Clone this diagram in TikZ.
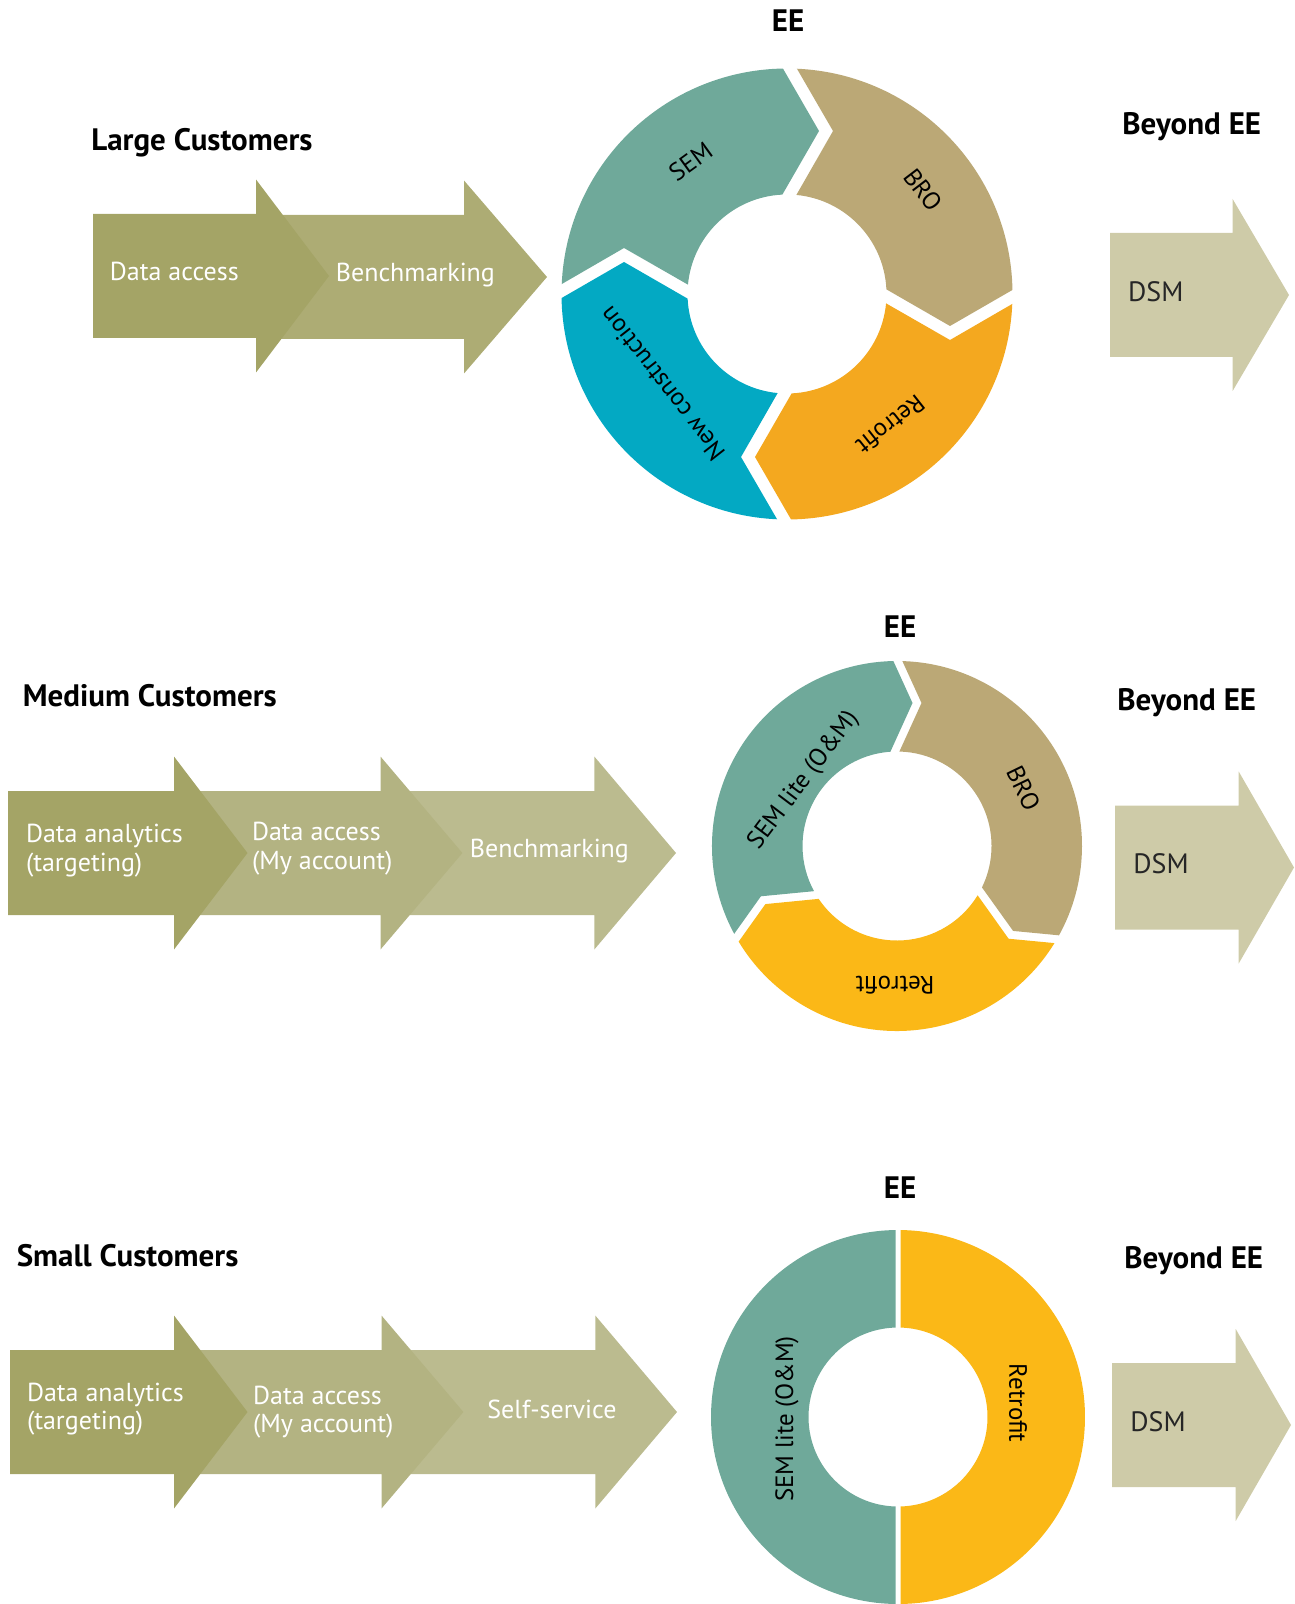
\documentclass[tikz,border=0pt]{standalone}
\usepackage{fontspec}
\setmainfont{PT Sans}

\definecolor{stepA}{RGB}{164,164,102}
\definecolor{stepB}{RGB}{173,172,116}
\definecolor{stepBB}{RGB}{179,179,130}
\definecolor{stepC}{RGB}{187,187,143}
\definecolor{dsmbeige}{RGB}{206,203,168}
\definecolor{semteal}{RGB}{111,169,154}
\definecolor{brotan}{RGB}{187,168,118}
\definecolor{retroorange}{RGB}{244,168,31}
\definecolor{retroyellow}{RGB}{251,184,23}
\definecolor{newblue}{RGB}{3,169,195}

% one piece of a ring: colour, start angle, end angle (clockwise)
\newcommand{\ringpart}[3]{%
  \pgfmathsetmacro\rpSo{#2+asin((\rpTip+\rpGap-(\rpRo-\rpRm)*\rpSlope)/\rpRo)}%
  \pgfmathsetmacro\rpSi{#2+asin((\rpTip+\rpGap-(\rpRm-\rpRi)*\rpSlope)/\rpRi)}%
  \pgfmathsetmacro\rpEo{#3+asin((\rpTip-(\rpRo-\rpRm)*\rpSlope)/\rpRo)}%
  \pgfmathsetmacro\rpEi{#3+asin((\rpTip-(\rpRm-\rpRi)*\rpSlope)/\rpRi)}%
  \fill[fill=#1] (\rpSo:\rpRo) arc[start angle=\rpSo, end angle=\rpEo, radius=\rpRo]
    -- ({\rpRm*cos(#3)-\rpTip*sin(#3)},{\rpRm*sin(#3)+\rpTip*cos(#3)})
    -- (\rpEi:\rpRi) arc[start angle=\rpEi, end angle=\rpSi, radius=\rpRi]
    -- ({\rpRm*cos(#2)-(\rpTip+\rpGap)*sin(#2)},{\rpRm*sin(#2)+(\rpTip+\rpGap)*cos(#2)})
    -- cycle;%
}

\begin{document}
\begin{tikzpicture}[
    x=0.5pt, y=-0.5pt,
    heading/.style={font=\bfseries\fontsize{15.5}{18}\selectfont, inner sep=0pt},
    title/.style={heading, anchor=base west},
    steplabel/.style={font=\fontsize{13}{14.3}\selectfont, text=white, inner sep=0pt, anchor=base west, align=left},
    dsmlabel/.style={font=\fontsize{14}{16}\selectfont, text=black!85, inner sep=0pt, anchor=base west},
    seglabel/.style={font=\fontsize{12.5}{14}\selectfont, inner sep=0pt}
  ]
  \useasboundingbox (0,0) rectangle (1294,1604);

  % large customers
  \node[title] (largeTitle) at (91,151) {Large Customers};
  \foreach \xs/\xh/\xt/\yc/\col in {262/464/547/277/stepB, 93/256/329/276/stepA}
    \fill[fill=\col] (\xs,\yc-62) -- (\xh,\yc-62) -- (\xh,\yc-96.5) -- (\xt,\yc)
      -- (\xh,\yc+96.5) -- (\xh,\yc+62) -- (\xs,\yc+62) -- cycle;
  \node[steplabel] (largeAccess) at (109.5,281) {Data access};
  \node[steplabel] (largeBench) at (335.5,282) {Benchmarking};

  \node[heading] (largeEE) at (788,21) {EE};
  \begin{scope}[shift={(787,294)}]
    \def\rpRo{225.5}\def\rpRi{99.5}\def\rpRm{163}\def\rpTip{32}\def\rpGap{14}\def\rpSlope{0.577}
    \ringpart{semteal}{180}{270}
    \ringpart{brotan}{270}{360}
    \ringpart{retroorange}{360}{450}
    \ringpart{newblue}{90}{180}
    \node[seglabel, rotate=36] (largeSEM) at (234:164) {SEM};
    \node[seglabel, rotate=-52.6] (largeBRO) at (322.6:171) {BRO};
    \node[seglabel, rotate=-141.7] (largeRetro) at (51.7:167) {Retrofit};
    \node[seglabel, rotate=128] (largeNew) at (144.2:154) {New construction};
  \end{scope}

  \node[title] (largeBeyond) at (1122,135) {Beyond EE};
  \fill[fill=dsmbeige] (1110,233) -- (1232.6,233) -- (1232.6,199) -- (1289,295)
    -- (1232.6,391) -- (1232.6,357) -- (1110,357) -- cycle;
  \node[dsmlabel] (largeDSM) at (1127.7,302) {DSM};

  % medium customers
  \node[title] (mediumTitle) at (22.5,706.5) {Medium Customers};
  \foreach \xs/\xh/\xt/\yc/\col in {410/594.3/676/853/stepC, 180/380.5/462.4/853/stepBB, 8/174/247.5/853/stepA}
    \fill[fill=\col] (\xs,\yc-62) -- (\xh,\yc-62) -- (\xh,\yc-96.5) -- (\xt,\yc)
      -- (\xh,\yc+96.5) -- (\xh,\yc+62) -- (\xs,\yc+62) -- cycle;
  \node[steplabel] (mediumAnalytics) at (25.6,871.3) {Data analytics\\(targeting)};
  \node[steplabel] (mediumAccess) at (251.6,869.2) {Data access\\(My account)};
  \node[steplabel] (mediumBench) at (469.5,857) {Benchmarking};

  \node[heading] (mediumEE) at (900,627) {EE};
  \begin{scope}[shift={(897,846)}]
    \def\rpRo{185}\def\rpRi{94.5}\def\rpRm{143}\def\rpTip{15.5}\def\rpGap{9}\def\rpSlope{0.456}
    \ringpart{semteal}{150}{270}
    \ringpart{brotan}{270}{390}
    \ringpart{retroyellow}{30}{150}
    \node[seglabel, rotate=53] (mediumSEM) at (215:114) {SEM lite (O\&M)};
    \node[seglabel, rotate=-64] (mediumBRO) at (335.4:139) {BRO};
    \node[seglabel, rotate=180] (mediumRetro) at (90.8:139) {Retrofit};
  \end{scope}

  \node[title] (mediumBeyond) at (1117,710.5) {Beyond EE};
  \fill[fill=dsmbeige] (1115,805.5) -- (1238.7,805.5) -- (1238.7,771.5) -- (1294,867.5)
    -- (1238.7,963.5) -- (1238.7,929.5) -- (1115,929.5) -- cycle;
  \node[dsmlabel] (mediumDSM) at (1133,873.5) {DSM};

  % small customers
  \node[title] (smallTitle) at (16.4,1266) {Small Customers};
  \foreach \xs/\xh/\xt/\yc/\col in {410/595.3/677/1412/stepC, 180/381.5/463.4/1412/stepBB, 10/174/247.5/1412/stepA}
    \fill[fill=\col] (\xs,\yc-62) -- (\xh,\yc-62) -- (\xh,\yc-96.5) -- (\xt,\yc)
      -- (\xh,\yc+96.5) -- (\xh,\yc+62) -- (\xs,\yc+62) -- cycle;
  \node[steplabel] (smallAnalytics) at (26.6,1429.6) {Data analytics\\(targeting)};
  \node[steplabel] (smallAccess) at (252.7,1432.9) {Data access\\(My account)};
  \node[steplabel] (smallSelf) at (487,1418.6) {Self-service};

  \node[heading] (smallEE) at (900,1187.6) {EE};
  \begin{scope}[shift={(898,1417)}]
    \def\rpRo{187}\def\rpRi{89.5}\def\rpRm{138}\def\rpTip{-2.5}\def\rpGap{5}\def\rpSlope{0}
    \ringpart{semteal}{90}{270}
    \ringpart{retroyellow}{270}{450}
    \node[seglabel, rotate=90] (smallSEM) at (-111,2) {SEM lite (O\&M)};
    \node[seglabel, rotate=-90] (smallRetro) at (120,-14) {Retrofit};
  \end{scope}

  \node[title] (smallBeyond) at (1124,1268) {Beyond EE};
  \fill[fill=dsmbeige] (1112,1363) -- (1235.7,1363) -- (1235.7,1329) -- (1291,1425)
    -- (1235.7,1521) -- (1235.7,1487) -- (1112,1487) -- cycle;
  \node[dsmlabel] (smallDSM) at (1130,1431.3) {DSM};
\end{tikzpicture}
\end{document}
